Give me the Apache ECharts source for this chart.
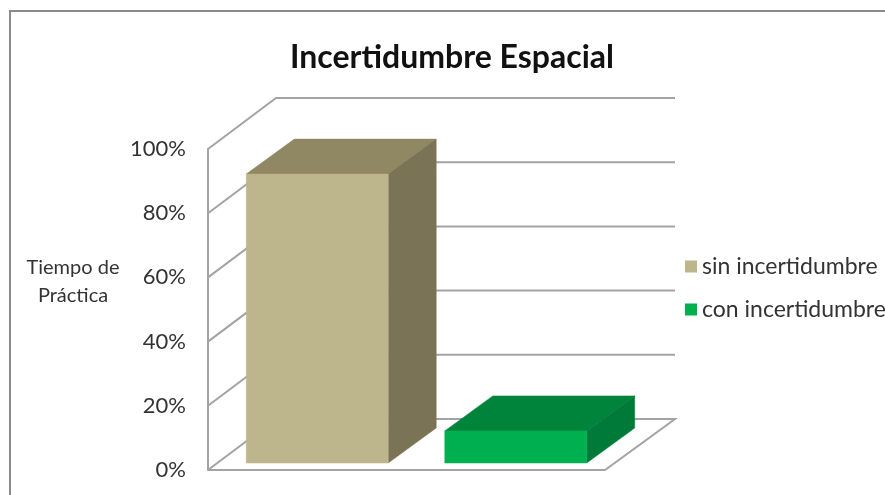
<!DOCTYPE html>
<html><head><meta charset="utf-8">
<style>html,body{margin:0;padding:0;background:#fff}#c{width:885px;height:495px}</style>
<script src="https://cdn.jsdelivr.net/npm/echarts@6/dist/echarts.min.js"></script>
</head><body><div id="c"></div>
<script>
const chartTitle = 'Incertidumbre Espacial';
const categories = ['sin incertidumbre', 'con incertidumbre'];
const sinValues = [[0, 90]];
const conValues = [[1, 10]];
const gridTicks = [[0, 0], [0, 20], [0, 40], [0, 60], [0, 80], [0, 100]];
const FONT = 'Lato';
const LINE = '#a3a3a3';
const WALL = [68, -51], BAR_OFFSET = [10, -7], BAR_DEPTH = [48, -35], BAR_RATIO = 0.715;

function poly(points, fill) {
  return { type: 'polygon', shape: { points }, style: { fill, stroke: fill, lineWidth: 0.5 } };
}
function barRenderer(front, top, side) {
  return function (params, api) {
    const base = api.coord([api.value(0), 0]);
    const head = api.coord([api.value(0), api.value(1)]);
    const w = api.size([1, 0])[0] * BAR_RATIO;
    const x0 = base[0] + BAR_OFFSET[0] - w / 2, x1 = x0 + w;
    const y0 = base[1] + BAR_OFFSET[1], y1 = head[1] + BAR_OFFSET[1];
    const dx = BAR_DEPTH[0], dy = BAR_DEPTH[1];
    return { type: 'group', children: [
      poly([[x0, y1], [x1, y1], [x1 + dx, y1 + dy], [x0 + dx, y1 + dy]], top),
      poly([[x1, y0], [x1 + dx, y0 + dy], [x1 + dx, y1 + dy], [x1, y1]], side),
      poly([[x0, y0], [x1, y0], [x1, y1], [x0, y1]], front)
    ]};
  };
}
function gridRenderer(params, api) {
  const cs = params.coordSys;
  const y = api.coord([0, api.value(1)])[1];
  const xl = cs.x, xr = cs.x + cs.width;
  const st = { stroke: LINE, lineWidth: 2, fill: 'none' };
  const pts = [[xl, y], [xl + WALL[0], y + WALL[1]], [xr + WALL[0] + 2, y + WALL[1]]];
  if (api.value(1) === 0) pts.push([xr, y], [xl, y]);
  return { type: 'polyline', shape: { points: pts }, style: st, silent: true };
}

const chart = echarts.init(document.getElementById('c'), null, { renderer: 'canvas' });
chart.setOption({
  animation: false,
  backgroundColor: '#fff',
  title: { text: chartTitle, left: 447, top: 37, textAlign: 'center',
    textStyle: { fontFamily: FONT, fontWeight: 'bold', fontSize: 32, color: '#111' } },
  legend: { data: categories, orient: 'vertical', left: 685, top: 255, itemWidth: 12, itemHeight: 12,
    itemGap: 20, icon: 'rect', selectedMode: false, padding: 0,
    textStyle: { fontFamily: FONT, fontSize: 23, color: '#333' } },
  grid: { left: 208, top: 149, width: 397, height: 321, containLabel: false },
  xAxis: { type: 'category', data: categories, axisLabel: { show: false }, axisTick: { show: false },
    axisLine: { show: false } },
  yAxis: { type: 'value', min: 0, max: 100, interval: 20,
    name: 'Tiempo de\nPráctica', nameLocation: 'middle', nameRotate: 0, nameGap: 135,
    nameTextStyle: { fontFamily: FONT, fontSize: 20, color: '#333', align: 'center', verticalAlign: 'bottom', lineHeight: 28 },
    axisLabel: { formatter: '{value}%', fontFamily: FONT, fontSize: 22, color: '#333', margin: 22, padding: [8, 0, 0, 0] },
    axisTick: { show: false }, splitLine: { show: false },
    axisLine: { show: true, lineStyle: { color: LINE, width: 2 } } },
  graphic: [
    { type: 'polyline', shape: { points: [[10, 495], [10, 11], [885, 11]] }, style: { stroke: '#8a8a8a', lineWidth: 2, fill: 'none' }, silent: true }
  ],
  series: [
    { type: 'custom', name: 'grid', data: gridTicks, renderItem: gridRenderer, silent: true, z: 1 },
    { type: 'custom', name: categories[0], data: sinValues, renderItem: barRenderer('#BDB58B', '#8F8862', '#7A7355'), itemStyle: { color: '#BDB58B' }, z: 2 },
    { type: 'custom', name: categories[1], data: conValues, renderItem: barRenderer('#00B050', '#00843C', '#007A38'), itemStyle: { color: '#00B050' }, z: 2 }
  ]
});
</script></body></html>
